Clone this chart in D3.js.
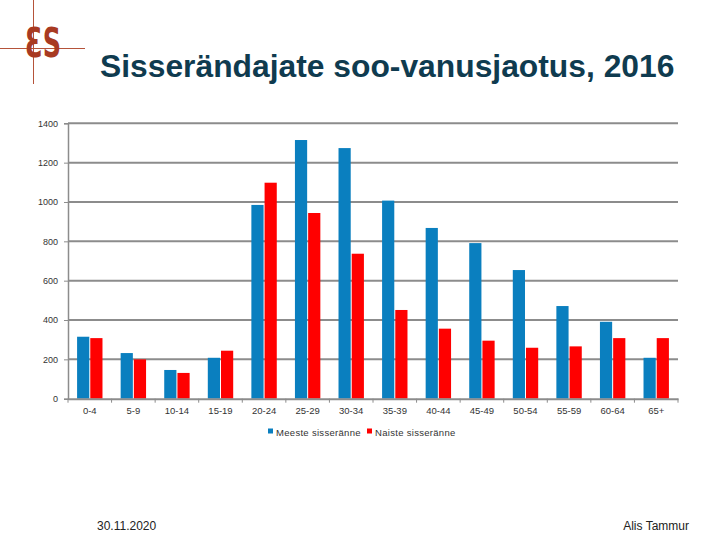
<!DOCTYPE html>
<html>
<head>
<meta charset="utf-8">
<script src="https://cdn.jsdelivr.net/npm/d3@7"></script>
<style>
  body { margin: 0; background: #fff; }
  svg { display: block; font-family: "Liberation Sans", Arial, sans-serif; }
</style>
</head>
<body>
<svg id="chart" width="720" height="540"></svg>
<script>
const categories = ["0-4","5-9","10-14","15-19","20-24","25-29","30-34","35-39","40-44","45-49","50-54","55-59","60-64","65+"];
const men   = [315, 232, 146, 208, 985, 1315, 1274, 1007, 868, 791, 654, 471, 391, 208];
const women = [308, 200, 131, 244, 1098, 944, 737, 451, 356, 295, 259, 266, 308, 308];
const seriesNames = ["Meeste sisseränne", "Naiste sisseränne"];
const seriesColors = ["#0a7fbf", "#ff0000"];
const yTicks = [0, 200, 400, 600, 800, 1000, 1200, 1400];

(function () {
const svg = d3.select("#chart");

// Logo
const logo = svg.append("g");
logo.append("line").attr("x1", 33.5).attr("x2", 33.5).attr("y1", 0).attr("y2", 84)
  .attr("stroke", "#b5533a").attr("stroke-width", 1);
logo.append("line").attr("x1", 0).attr("x2", 85).attr("y1", 48.5).attr("y2", 48.5)
  .attr("stroke", "#b5533a").attr("stroke-width", 1);
logo.append("text").attr("transform", "translate(25,57) scale(0.62,1)")
  .attr("font-family", "DejaVu Sans, sans-serif").attr("font-size", 41).attr("font-weight", "bold")
  .attr("fill", "#a83a22").text("ƐS");

// Title
svg.append("text").attr("x", 100).attr("y", 77)
  .attr("font-family", "Liberation Sans, Arial, sans-serif")
  .attr("font-weight", "bold").attr("font-size", 31.8).attr("fill", "#0f3b4f")
  .text("Sisserändajate soo-vanusjaotus, 2016");

const pLeft = 68, pRight = 678, pTop = 123.3, pBottom = 398.7;
const x = d3.scaleBand().domain(categories).range([pLeft, pRight]).padding(0);
const y = d3.scaleLinear().domain([0, 1400]).range([pBottom, pTop]);

// Gridlines
svg.append("g").selectAll("line").data(yTicks.slice(1)).join("line")
  .attr("x1", pLeft).attr("x2", pRight)
  .attr("y1", d => y(d)).attr("y2", d => y(d))
  .attr("stroke", "#8c8c8c").attr("stroke-width", 2);

// Y axis
const yAxis = svg.append("g").attr("transform", `translate(${pLeft},0)`)
  .call(d3.axisLeft(y).tickValues(yTicks).tickFormat(d3.format("d")).tickSize(4).tickPadding(6));
yAxis.select(".domain").attr("stroke", "#8c8c8c").attr("stroke-width", 1.5);
yAxis.selectAll(".tick line").attr("stroke", "#8c8c8c");
yAxis.selectAll("text").attr("font-size", 9).attr("fill", "#333")
  .attr("font-family", "Liberation Sans, Arial, sans-serif");

// Bars
const bw = x.bandwidth() * 0.28;
const series = [men, women];
series.forEach((vals, si) => {
  svg.append("g").selectAll("rect").data(vals).join("rect")
    .attr("x", (d, i) => x(categories[i]) + x.bandwidth() / 2 + (si === 0 ? -bw - 0.5 : 0.5))
    .attr("y", d => y(d))
    .attr("width", bw)
    .attr("height", d => y(0) - y(d))
    .attr("fill", seriesColors[si]);
});

// X axis
const xAxis = svg.append("g").attr("transform", `translate(0,${pBottom})`)
  .call(d3.axisBottom(x).tickSize(0).tickPadding(9));
xAxis.select(".domain").attr("stroke", "#8c8c8c").attr("stroke-width", 2);
xAxis.selectAll("text").attr("font-size", 9.5).attr("fill", "#333")
  .attr("font-family", "Liberation Sans, Arial, sans-serif");
// Category separator ticks
svg.append("g").selectAll("line")
  .data(d3.range(categories.length + 1))
  .join("line")
  .attr("x1", i => pLeft + i * x.step()).attr("x2", i => pLeft + i * x.step())
  .attr("y1", pBottom).attr("y2", pBottom + 4)
  .attr("stroke", "#8c8c8c").attr("stroke-width", 1);

// Legend
const legend = svg.append("g").attr("transform", "translate(268,432)");
const legX = [0, 99];
seriesNames.forEach((n, i) => {
  legend.append("rect").attr("x", legX[i]).attr("y", -3.5).attr("width", 5).attr("height", 5)
    .attr("fill", seriesColors[i]);
  legend.append("text").attr("x", legX[i] + 8).attr("y", 3.5)
    .attr("font-size", 9.5).attr("letter-spacing", 0.3).attr("fill", "#333").text(n);
});

// Footer
svg.append("text").attr("x", 97).attr("y", 530).attr("font-size", 12).attr("fill", "#222").text("30.11.2020");
svg.append("text").attr("x", 689).attr("y", 530).attr("text-anchor", "end")
  .attr("font-size", 12).attr("fill", "#222").text("Alis Tammur");
})();
</script>
</body>
</html>
